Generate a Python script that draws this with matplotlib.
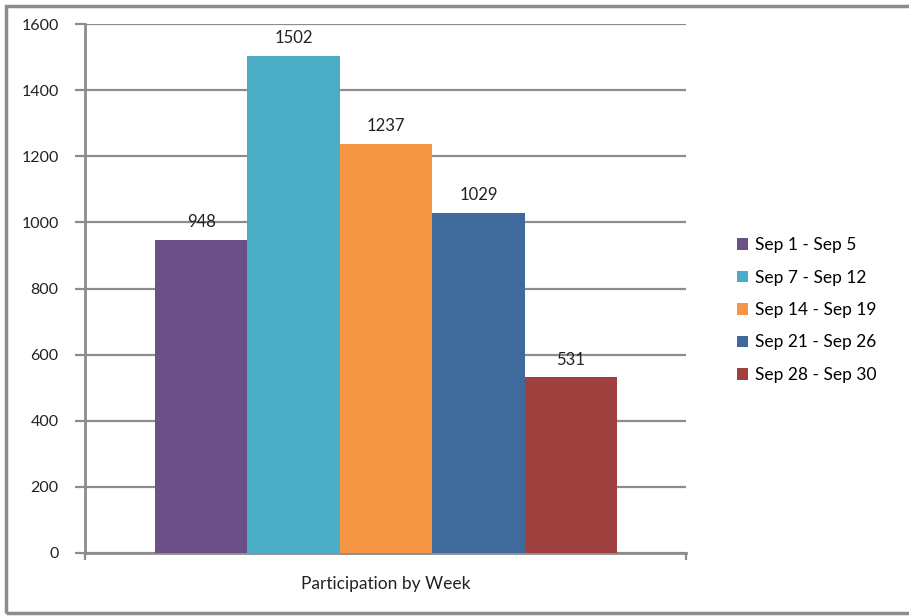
import matplotlib.pyplot as plt
from matplotlib.patches import Rectangle

# данные
weeks = ["Sep 1 - Sep 5", "Sep 7 - Sep 12", "Sep 14 - Sep 19", "Sep 21 - Sep 26", "Sep 28 - Sep 30"]
counts = [948, 1502, 1237, 1029, 531]
colors = ["#6a5086", "#4aacc5", "#f59644", "#3f6a9b", "#a04140"]
category = "Participation by Week"

plt.rcParams['font.family'] = ['Lato', 'DejaVu Sans']

fig = plt.figure(figsize=(9.09, 6.16), dpi=100)
ax = fig.add_axes([85/909, 1 - 553/616, 601/909, 529/616])

# рамка вокруг всей картинки (правый край уходит за кадр)
fig.patches.append(Rectangle((6/909, 3/616), 910/909, 607/616, transform=fig.transFigure,
                             fill=False, edgecolor="#8c8c8c", linewidth=2.5))

start = 70/601
width = 92.4/601
for i, (w, c, col) in enumerate(zip(weeks, counts, colors)):
    x = start + i*width
    ax.bar(x, c, width=width, align='edge', color=col, label=w, zorder=3)
    ax.text(x + width/2, c + 30, str(c), ha='center', va='bottom', fontsize=12, color='#222222')

ax.set_xlim(0, 1)
ax.set_ylim(0, 1600)
ax.set_yticks(range(0, 1601, 200))
ax.set_xticks([0, 1])
ax.set_xticklabels(["", ""])
ax.set_xlabel(category, fontsize=12.5, labelpad=8, color='#222222')
ax.grid(axis='y', color='#8c8c8c', linewidth=1.6, zorder=0)
ax.tick_params(axis='y', length=7, width=1.6, color='#8c8c8c', labelsize=11.5, pad=12, labelcolor='#222222')
ax.tick_params(axis='x', length=5, width=1.6, color='#8c8c8c')
for s in ['top', 'right']:
    ax.spines[s].set_visible(False)
for s in ['left', 'bottom']:
    ax.spines[s].set_color('#8c8c8c')
    ax.spines[s].set_linewidth(2)

ax.legend(loc='center left', bbox_to_anchor=(1.085, 1 - (310 - 24)/529), frameon=False, fontsize=12.5,
          handlelength=0.65, handleheight=0.65, labelspacing=0.95, handletextpad=0.4,
          borderpad=0, borderaxespad=0)

fig.savefig("out.png", dpi=100)
